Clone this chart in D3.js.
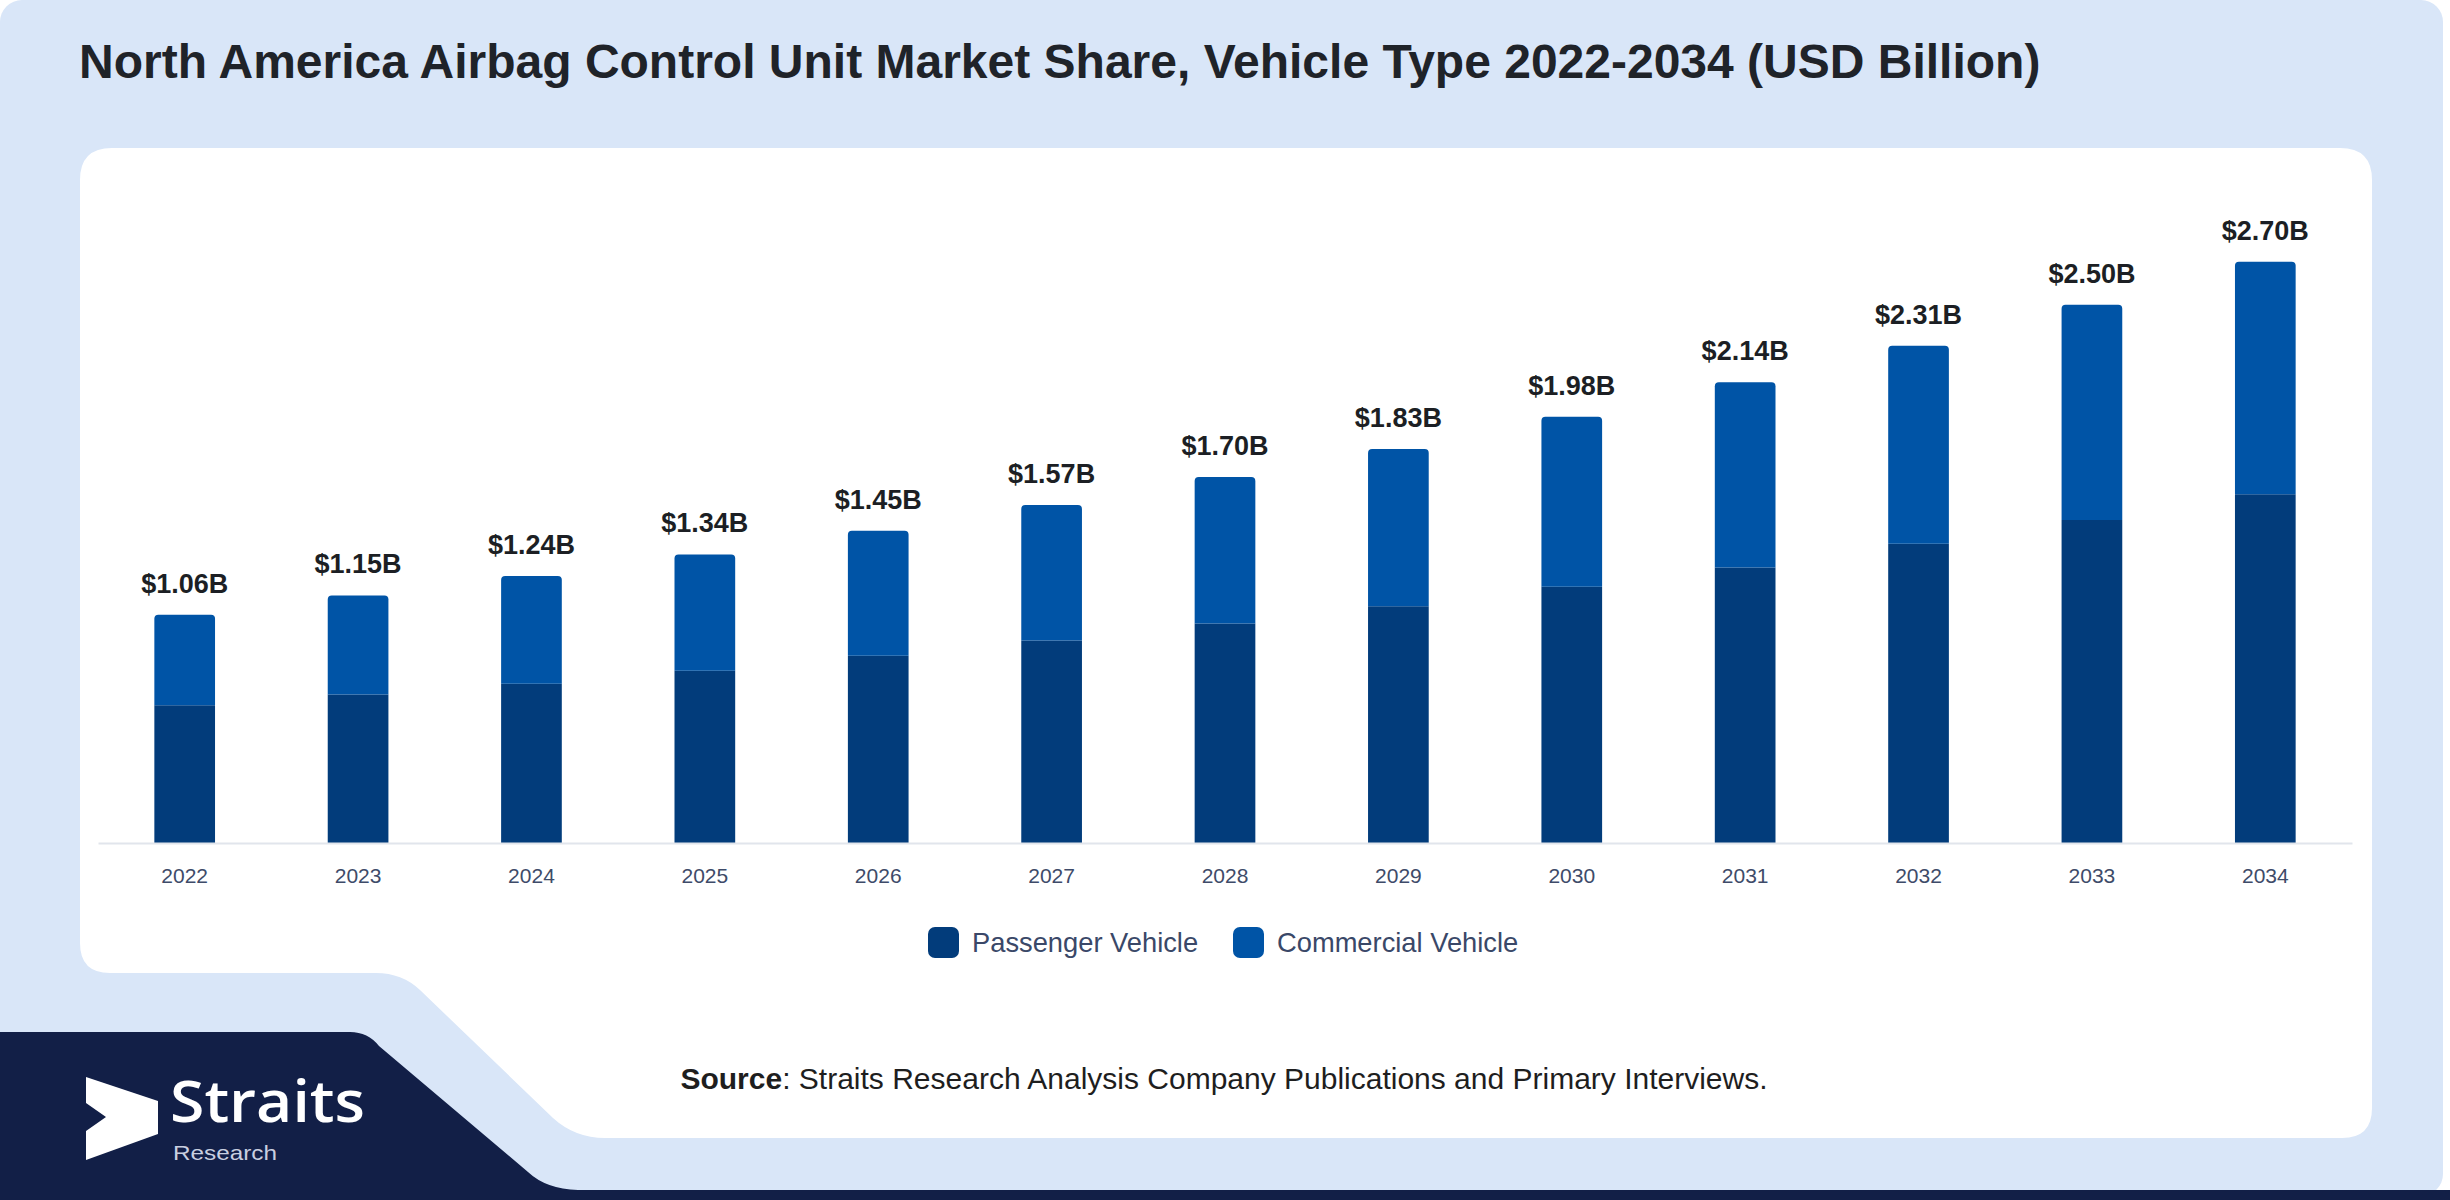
<!DOCTYPE html>
<html>
<head>
<meta charset="utf-8">
<script src="https://cdn.jsdelivr.net/npm/d3@7"></script>
<style>
  body { margin: 0; background: #ffffff; }
  svg { display: block; }
</style>
</head>
<body>
<svg id="screen" width="2450" height="1200"></svg>
<script>
const screenEl = document.querySelector("#screen");

//data
const years = ["2022","2023","2024","2025","2026","2027","2028","2029","2030","2031","2032","2033","2034"];
const passenger = [0.64, 0.69, 0.74, 0.80, 0.87, 0.94, 1.02, 1.10, 1.19, 1.28, 1.39, 1.50, 1.62];
const commercial = [0.42, 0.46, 0.50, 0.54, 0.58, 0.63, 0.68, 0.73, 0.79, 0.86, 0.92, 1.00, 1.08];
const totals = ["$1.06B","$1.15B","$1.24B","$1.34B","$1.45B","$1.57B","$1.70B","$1.83B","$1.98B","$2.14B","$2.31B","$2.50B","$2.70B"];
const seriesNames = ["Passenger Vehicle","Commercial Vehicle"];
const colors = ["#023c7b","#0054a6"];

const svg = d3.select(screenEl);

//background frame
svg.append("rect").attr("x",0).attr("y",0).attr("width",2443).attr("height",1196)
  .attr("rx",22).attr("fill","#d9e6f8");

//navy corner with the logo
svg.append("path")
  .attr("d","M0,1032 H350 Q368,1032 379,1046 L528,1172 Q546,1189 578,1190 H2450 V1200 H0 Z")
  .attr("fill","#121f47");

//white card
svg.append("path")
  .attr("d","M112,148 H2340 Q2372,148 2372,180 V1108 Q2372,1138 2342,1138 H605 Q575,1138 553,1118 L420,990 Q402,973 376,973 H110 Q80,973 80,943 V180 Q80,148 112,148 Z")
  .attr("fill","#ffffff");

//title
svg.append("text").attr("x",79).attr("y",78)
  .attr("font-family","Liberation Sans, Arial, sans-serif").attr("font-weight","bold")
  .attr("font-size",48).attr("fill","#1f2329")
  .text("North America Airbag Control Unit Market Share, Vehicle Type 2022-2034 (USD Billion)");

//scales
const baseY = 843;
const x = d3.scaleBand().domain(years).range([98, 2352]).paddingInner(0.65).paddingOuter(0.325);
const y = d3.scaleLinear().domain([0, 3]).range([baseY, baseY - 3 * 215.3]);

const table = years.map((yr, i) => ({year: yr, p: passenger[i], c: commercial[i]}));
const stack = d3.stack().keys(["p","c"]);
const layers = stack(table);

//bars
layers.forEach(function(layer, li){
  svg.append("g").selectAll("path").data(layer).join("path")
    .attr("fill", colors[li])
    .attr("d", function(d){
      const x0 = x(d.data.year), w = x.bandwidth();
      const top = y(d[1]), bot = y(d[0]);
      if (li === 1) {
        const r = 4;
        return "M" + x0 + "," + bot + " V" + (top + r) + " Q" + x0 + "," + top + " " + (x0 + r) + "," + top +
          " H" + (x0 + w - r) + " Q" + (x0 + w) + "," + top + " " + (x0 + w) + "," + (top + r) + " V" + bot + " Z";
      }
      return "M" + x0 + "," + bot + " V" + top + " H" + (x0 + w) + " V" + bot + " Z";
    });
});

//axis
const axis = svg.append("g").attr("transform","translate(0," + baseY + ")")
  .call(d3.axisBottom(x).tickSize(0).tickPadding(25));
axis.select(".domain").attr("stroke","#e1e5ec").attr("stroke-width",2);
axis.selectAll("text").attr("font-family","Liberation Sans, Arial, sans-serif")
  .attr("font-size",21).attr("fill","#3e4b69");

//total labels
svg.append("g").selectAll("text").data(table).join("text")
  .attr("x", d => x(d.year) + x.bandwidth() / 2)
  .attr("y", (d, i) => y(layers[1][i][1]) - 22)
  .attr("text-anchor","middle")
  .attr("font-family","Liberation Sans, Arial, sans-serif").attr("font-weight","bold")
  .attr("font-size",27).attr("fill","#1c1f24")
  .text((d, i) => totals[i]);

//legend
const legendX = [928, 1233];
const legend = svg.append("g").selectAll("g").data(seriesNames).join("g")
  .attr("transform", (d, i) => "translate(" + legendX[i] + ",927)");
legend.append("rect").attr("width",31).attr("height",31).attr("rx",7)
  .attr("fill", (d, i) => colors[i]);
legend.append("text").attr("x",44).attr("y",25)
  .attr("font-family","Liberation Sans, Arial, sans-serif")
  .attr("font-size",27.3).attr("fill","#3a4868")
  .text(d => d);

//source
const src = svg.append("text").attr("x",1224).attr("y",1089).attr("text-anchor","middle")
  .attr("font-family","Liberation Sans, Arial, sans-serif").attr("font-size",30).attr("fill","#1e1e1e");
src.append("tspan").attr("font-weight","bold").text("Source");
src.append("tspan").text(": Straits Research Analysis Company Publications and Primary Interviews.");

//logo
svg.append("path")
  .attr("d","M86,1077 L158,1101 V1134 L86,1160 V1131 L106,1117 L86,1103 Z")
  .attr("fill","#ffffff");
svg.append("text").attr("x",170).attr("y",1122)
  .attr("font-family","Open Sans, sans-serif").attr("font-weight",600)
  .attr("font-size",58).attr("textLength",195).attr("lengthAdjust","spacingAndGlyphs")
  .attr("fill","#ffffff").text("Straits");
svg.append("text").attr("x",173).attr("y",1160)
  .attr("font-family","Liberation Sans, Arial, sans-serif")
  .attr("font-size",21).attr("textLength",104).attr("lengthAdjust","spacingAndGlyphs")
  .attr("fill","#c9cfe0").text("Research");
</script>
</body>
</html>
